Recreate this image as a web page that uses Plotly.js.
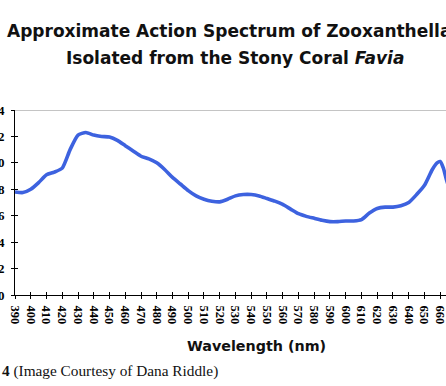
<!DOCTYPE html>
<html>
<head>
<meta charset="utf-8">
<script src="https://cdn.plot.ly/plotly-3.0.1.min.js"></script>
<style>
html,body{margin:0;padding:0;overflow:hidden;background:#fff;}
#chart{width:470px;height:386px;}
</style>
</head>
<body>
<div id="chart"></div>
<script>
// Wavelength (nm)
const wavelength = [390,395,400,405,410,415,420,425,430,435,440,445,450,455,460,465,470,475,480,485,490,495,500,505,510,515,520,525,530,535,540,545,550,555,560,565,570,575,580,585,590,595,600,605,610,615,620,625,630,635,640,645,650,655,658,660,662,664,666];
// Relative action (approximate)
const action = [0.78,0.775,0.80,0.85,0.91,0.93,0.96,1.10,1.21,1.23,1.21,1.20,1.195,1.17,1.13,1.09,1.05,1.03,1.00,0.95,0.89,0.84,0.79,0.75,0.725,0.71,0.705,0.725,0.75,0.76,0.76,0.75,0.73,0.71,0.685,0.65,0.615,0.595,0.58,0.565,0.555,0.555,0.56,0.56,0.57,0.62,0.655,0.665,0.665,0.675,0.70,0.76,0.83,0.95,1.00,1.01,0.96,0.87,0.80];
const xTickVals = [390,400,410,420,430,440,450,460,470,480,490,500,510,520,530,540,550,560,570,580,590,600,610,620,630,640,650,660,670];
const yTickVals = [0,0.2,0.4,0.6,0.8,1.0,1.2,1.4];

const xRange = [390, 678.9];
const yRange = [0, 1.4];

const trace = {
  x: wavelength, y: action, type: 'scatter', mode: 'lines',
  line: {color: '#3d62df', width: 3.6, shape: 'spline', smoothing: 0.6},
  hoverinfo: 'skip'
};
const dummy = {x: [390], y: [0], xaxis: 'x2', yaxis: 'y2', type: 'scatter', mode: 'markers', marker: {opacity: 0}, hoverinfo: 'skip'};

const tickFontY = {family: 'Liberation Serif', size: 13, color: '#000', weight: 'bold'};
const tickFontX = {family: 'Liberation Serif', size: 12.5, color: '#000', weight: 'bold'};

const layout = {
  width: 470, height: 386,
  margin: {l: 15, r: 0, t: 109.7, b: 91, pad: 0},
  paper_bgcolor: '#fff', plot_bgcolor: '#fff',
  showlegend: false,
  xaxis: {
    range: xRange, tickmode: 'array', tickvals: xTickVals, ticktext: xTickVals.map(String),
    ticks: 'outside', ticklen: 3, tickwidth: 1, tickcolor: '#000',
    showline: true, linecolor: '#000', linewidth: 1, showgrid: false, zeroline: false,
    tickangle: 90, tickfont: tickFontX, ticklabelstandoff: 4
  },
  yaxis: {
    range: yRange, tickmode: 'array', tickvals: yTickVals, tickformat: '.1f',
    ticks: 'outside', ticklen: 3, tickwidth: 1, tickcolor: '#000',
    showline: true, linecolor: '#000', linewidth: 1, showgrid: false, zeroline: false,
    tickfont: tickFontY, ticklabelstandoff: 4
  },
  xaxis2: {
    overlaying: 'x', anchor: 'y2', range: xRange, tickmode: 'array', tickvals: xTickVals,
    ticks: 'inside', ticklen: 3, tickwidth: 1, tickcolor: '#000',
    showticklabels: false, showline: false, showgrid: false, zeroline: false
  },
  yaxis2: {
    overlaying: 'y', anchor: 'x2', range: yRange, tickmode: 'array', tickvals: yTickVals,
    ticks: 'inside', ticklen: 3, tickwidth: 1, tickcolor: '#000',
    showticklabels: false, showline: false, showgrid: false, zeroline: false
  },
  shapes: [{
    type: 'line', xref: 'paper', yref: 'y', x0: 0, x1: 1, y0: 1.4, y1: 1.4,
    line: {color: '#8a8a8a', width: 1.2}, layer: 'below'
  }],
  annotations: [
    {text: 'Approximate Action Spectrum of Zooxanthellae', xref: 'paper', yref: 'paper',
     x: (234.5 - 15) / 455, y: (295 - 31) / 185.3, xanchor: 'center', yanchor: 'middle', showarrow: false,
     font: {family: 'DejaVu Sans', size: 17, color: '#111', weight: 'bold'}},
    {text: 'Isolated from the Stony Coral <i>Favia</i>', xref: 'paper', yref: 'paper',
     x: (234.5 - 15) / 455, y: (295 - 58) / 185.3, xanchor: 'center', yanchor: 'middle', showarrow: false,
     font: {family: 'DejaVu Sans', size: 17, color: '#111', weight: 'bold'}},
    {text: 'Wavelength (nm)', xref: 'paper', yref: 'paper',
     x: (256 - 15) / 455, y: (295 - 346) / 185.3, xanchor: 'center', yanchor: 'middle', showarrow: false,
     font: {family: 'DejaVu Sans', size: 14.3, color: '#111', weight: 'bold'}},
    {text: '<b>4</b> (Image Courtesy of Dana Riddle)', xref: 'paper', yref: 'paper',
     x: (0 - 15) / 455, y: (295 - 371) / 185.3, xanchor: 'left', yanchor: 'middle', showarrow: false,
     font: {family: 'Liberation Serif', size: 15.3, color: '#111'}}
  ]
};

Plotly.newPlot('chart', [trace, dummy], layout, {staticPlot: true, displayModeBar: false});
</script>
</body>
</html>
